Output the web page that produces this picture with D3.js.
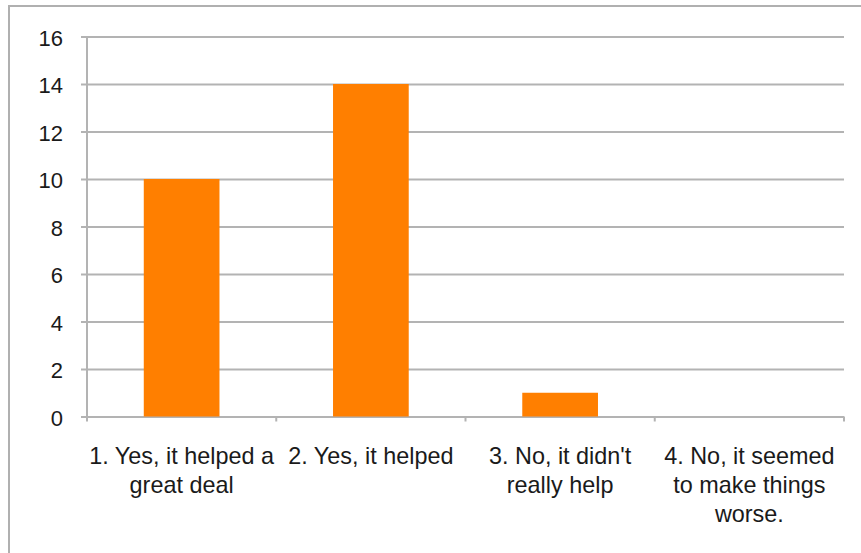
<!DOCTYPE html>
<html>
<head>
<meta charset="utf-8">
<script src="https://cdn.jsdelivr.net/npm/d3@7"></script>
<style>
  html, body { margin: 0; padding: 0; background: #fff; }
  svg { display: block; }
  text { font-family: "Liberation Sans", Arial, Helvetica, sans-serif; fill: #1a1a1a; }
</style>
</head>
<body>
<svg id="chart" width="861" height="553"></svg>
<script>
// Survey answers and the number of respondents for each
const categories = [
  ["1. Yes, it helped a", "great deal"],
  ["2. Yes, it helped"],
  ["3. No, it didn't", "really help"],
  ["4. No, it seemed", "to make things", "worse."]
];
const counts = [10, 14, 1, 0];
const yTicks = [0, 2, 4, 6, 8, 10, 12, 14, 16];

const svg = d3.select("#chart");
const margin = { left: 87, right: 17, top: 36.5, bottom: 136.5 };
const W = 861, H = 553;
const gridColor = "#b3b3b3";
const tickFont = 22;
const catFont = 23.4;

// outer frame (runs off the right and bottom edges)
svg.append("rect")
  .attr("x", 9).attr("y", 6)
  .attr("width", 900).attr("height", 600)
  .attr("fill", "none")
  .attr("stroke", "#b0b0b0")
  .attr("stroke-width", 2);

const x = d3.scaleBand()
  .domain(d3.range(categories.length))
  .range([margin.left, W - margin.right])
  .paddingInner(0).paddingOuter(0);

const y = d3.scaleLinear()
  .domain([0, 16])
  .range([H - margin.bottom, margin.top]);

// horizontal gridlines with short ticks to the left of the axis
const yAxis = d3.axisLeft(y)
  .tickValues(yTicks)
  .tickSize(-(W - margin.right - margin.left))
  .tickPadding(24)
  .tickFormat(d3.format("d"));

const gy = svg.append("g")
  .attr("transform", `translate(${margin.left},0)`)
  .call(yAxis);
gy.select(".domain").remove();
gy.selectAll(".tick line")
  .attr("x1", -6)
  .attr("stroke", gridColor)
  .attr("stroke-width", 2);
gy.selectAll(".tick text")
  .attr("font-size", tickFont)
  .attr("fill", "#1a1a1a")
  .attr("dy", "0.4em")
  .style("font-family", "'Liberation Sans', Arial, sans-serif");

// vertical axis line
svg.append("line")
  .attr("x1", margin.left).attr("x2", margin.left)
  .attr("y1", y(16)).attr("y2", y(0) + 5)
  .attr("stroke", gridColor).attr("stroke-width", 2);

// category separator ticks below the baseline
const sepPositions = d3.range(categories.length).map(i => x(i) + x.bandwidth());
svg.selectAll("line.sep")
  .data(sepPositions)
  .join("line")
  .attr("class", "sep")
  .attr("x1", d => d).attr("x2", d => d)
  .attr("y1", y(0)).attr("y2", y(0) + 5)
  .attr("stroke", gridColor).attr("stroke-width", 2);

// bars
const barW = x.bandwidth() * 0.4;
svg.selectAll("rect.bar")
  .data(counts)
  .join("rect")
  .attr("class", "bar")
  .attr("x", (d, i) => x(i) + (x.bandwidth() - barW) / 2)
  .attr("width", barW)
  .attr("y", d => y(d))
  .attr("height", d => y(0) - y(d))
  .attr("fill", "#ff7f00");

// category labels, wrapped across lines
const labels = svg.selectAll("text.cat")
  .data(categories)
  .join("text")
  .attr("class", "cat")
  .attr("text-anchor", "middle")
  .attr("font-size", catFont)
  .attr("transform", (d, i) => `translate(${x(i) + x.bandwidth() / 2},${y(0) + 47})`);
labels.selectAll("tspan")
  .data(d => d)
  .join("tspan")
  .attr("x", 0)
  .attr("y", (d, j) => j * 29.3)
  .text(d => d);
</script>
</body>
</html>
